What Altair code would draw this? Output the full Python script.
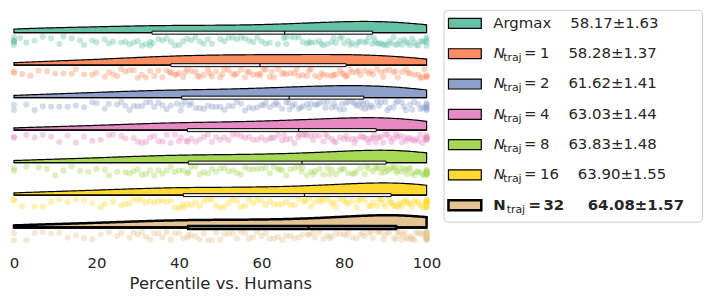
import altair as alt
import pandas as pd

# ---------------- data ----------------
categories = ["Argmax", "N_traj=1", "N_traj=2", "N_traj=4", "N_traj=8", "N_traj=16", "N_traj=32"]
n_traj = [None, 1, 2, 4, 8, 16, 32]
means = [58.17, 58.28, 61.62, 63.03, 63.83, 63.90, 64.08]
stds = [1.63, 1.37, 1.41, 1.44, 1.48, 1.55, 1.57]

scores_argmax = [
    0, 0, 0, 0, 0, 0, 1.5, 3, 5, 7, 9, 11, 12, 14, 16, 17, 19, 20, 22, 23, 24, 26, 27, 28, 29, 30, 31, 32, 33, 33,
    33.6, 35, 36, 37, 38, 39, 40, 41, 42, 43, 44, 45, 46, 47, 48, 50, 51, 52, 53, 54, 55, 56, 57, 58, 59, 60, 61, 62, 64, 65.4,
    65.8, 66, 67, 68, 69, 70, 71, 71.5, 72, 73, 74, 74.5, 75, 76, 77, 77.5, 78, 79, 79.5, 80, 81, 81.5, 82, 83, 83.5, 84, 85, 85.5, 86, 86.8,
    87.2, 87.5, 88, 88.5, 89, 89.5, 90, 90.5, 91, 91.5, 92, 92.5, 93, 93.5, 94, 94.5, 95, 95.5, 96, 96.5, 97, 97.5, 98, 98.5, 99, 99.5, 100, 100, 100, 100,
]
scores_n1 = [
    0, 0, 2, 4, 6, 8, 10, 12, 14, 15, 17, 19, 20, 22, 23, 24, 25, 26, 27, 28, 29, 30, 31, 32, 33, 34, 35, 36, 37, 37.8,
    38.1, 39, 39.5, 40, 41, 41.5, 42, 43, 44, 44.5, 45, 46, 47, 47.5, 48, 49, 50, 50.5, 51, 52, 53, 53.5, 54, 55, 56, 56.5, 57, 58, 59, 59.5,
    59.7, 60.5, 61, 62, 62.5, 63, 64, 65, 65.5, 66, 67, 68, 68.5, 69, 70, 71, 71.5, 72, 73, 74, 74.5, 75, 76, 77, 77.5, 78, 79, 79.5, 80, 80.4,
    80.8, 81.5, 82, 83, 83.5, 84, 85, 86, 86.5, 87, 88, 89, 89.5, 90, 91, 92, 92.5, 93, 94, 95, 95.5, 96, 97, 98, 98.5, 99, 99.5, 100, 100, 100,
]
scores_n2 = [
    0, 0, 3, 5, 7, 9, 11, 13, 15, 17, 19, 20, 22, 23, 25, 26, 27, 28, 29, 30, 31, 32, 33, 34, 35, 36, 37, 38, 39.5, 40.4,
    40.7, 41.5, 42.5, 43, 44, 45, 46, 47, 48, 49, 50, 51, 52, 53, 54, 55, 56, 57, 58, 59, 60, 60.5, 61, 62, 63, 63.5, 64, 65, 66, 66.6,
    66.8, 67.5, 68, 69, 69.5, 70, 71, 71.5, 72, 73, 73.5, 74, 75, 75.5, 76, 77, 77.5, 78, 79, 79.5, 80, 80.5, 81, 82, 82.5, 83, 83.5, 84, 84.3, 84.7,
    85.1, 85.5, 86, 86.5, 87, 88, 88.5, 89, 90, 90.5, 91, 92, 92.5, 93, 94, 94.5, 95, 96, 96.5, 97, 98, 98.5, 99, 99.5, 100, 100, 100, 100, 100, 100,
]
scores_n4 = [
    0, 0, 3, 5, 7, 9, 11, 13, 15, 17, 19, 21, 23, 24, 26, 27, 29, 30, 31, 32, 33, 34, 35, 36, 37, 38, 39, 40, 40.5, 41.8,
    42.1, 43, 44, 45, 46, 47, 48, 49, 50, 51, 52, 53, 54, 55, 56, 57, 58, 59, 60, 61, 62, 62.5, 63, 64, 65, 65.5, 66, 67, 68, 68.9,
    69.1, 70, 70.5, 71, 72, 72.5, 73, 74, 75, 75.5, 76, 77, 77.5, 78, 79, 80, 80.5, 81, 82, 82.5, 83, 84, 84.5, 85, 85.5, 86, 86.5, 87, 87.3, 87.7,
    88.1, 88.5, 89, 89.5, 90, 90.5, 91, 91.5, 92, 92.5, 93, 93.5, 94, 94.5, 95, 95.5, 96, 96.5, 97, 97.5, 98, 98.5, 99, 99.5, 100, 100, 100, 100, 100, 100,
]
scores_n8 = [
    0, 0, 3, 6, 8, 10, 12, 14, 16, 18, 20, 22, 23, 25, 27, 28, 29, 30, 31, 32, 33, 34, 35, 36, 37, 38, 39, 40, 41, 42.0,
    42.3, 43, 44, 45, 46, 47, 48, 49, 50, 51, 52, 53, 54, 55, 56, 57, 58, 59, 60, 61, 62, 63, 64, 64.5, 65, 66, 67, 68, 69, 69.7,
    69.9, 71, 72, 72.5, 73, 74, 75, 76, 76.5, 77, 78, 79, 79.5, 80, 81, 82, 82.5, 83, 84, 85, 85.5, 86, 87, 87.5, 88, 88.5, 89, 89.5, 89.8, 90.1,
    90.5, 91, 91.5, 92, 92.3, 92.7, 93, 93.5, 94, 94.5, 95, 95.3, 95.7, 96, 96.5, 97, 97.5, 98, 98.5, 99, 99.5, 100, 100, 100, 100, 100, 100, 100, 100, 100,
]
scores_n16 = [
    0, 0, 2, 5, 7, 9, 11, 13, 15, 17, 19, 21, 22, 24, 26, 27, 28, 29, 30, 31, 32, 33, 34, 35, 36, 37, 38, 39, 40, 40.8,
    41.1, 42, 43, 44, 45, 46, 47, 48, 49, 50, 51, 52, 53, 54, 55, 56, 57, 58, 59, 60, 61, 62, 63, 64, 65, 66, 67, 68, 69, 70.3,
    70.5, 71.5, 72, 73, 74, 74.5, 75, 76, 77, 77.5, 78, 79, 80, 80.5, 81, 82, 83, 83.5, 84, 85, 86, 86.5, 87, 88, 88.5, 89, 89.5, 90, 90.8, 91.3,
    91.7, 92, 92.5, 93, 93.3, 93.7, 94, 94.5, 95, 95.3, 95.7, 96, 96.5, 97, 97.5, 98, 98.5, 99, 99.5, 100, 100, 100, 100, 100, 100, 100, 100, 100, 100, 100,
]
scores_n32 = [
    0, 0, 3, 5, 7, 9, 11, 13, 15, 17, 19, 21, 23, 25, 26, 28, 29, 30, 31, 32, 33, 34, 35, 36, 37, 38, 39, 40, 41, 42.0,
    42.3, 43, 44, 45, 46, 47, 48, 49, 50, 51, 52, 53, 54, 55, 56, 57, 58, 59, 60, 61, 62, 63, 64, 65, 66, 67, 68, 69, 70, 71.3,
    71.5, 72.5, 73, 74, 75, 76, 76.5, 77, 78, 79, 80, 80.5, 81, 82, 83, 84, 84.5, 85, 86, 86.5, 87, 88, 88.5, 89, 89.5, 90, 90.5, 91, 92, 92.5,
    92.9, 93.2, 93.5, 94, 94.3, 94.7, 95, 95.5, 96, 96.3, 96.7, 97, 97.5, 98, 98.5, 99, 99.5, 100, 100, 100, 100, 100, 100, 100, 100, 100, 100, 100, 100, 100,
]
all_scores = [scores_argmax, scores_n1, scores_n2, scores_n4, scores_n8, scores_n16, scores_n32]

x_ticks = [0, 20, 40, 60, 80, 100]
x_title = "Percentile vs. Humans"

# ---------------- style ----------------
palette = ["#66c2a5", "#fc8d62", "#8da0cb", "#e78ac3", "#a6d854", "#ffd92f", "#e5c494"]
FONT = "DejaVu Sans"
TXT = "#262626"
NB = "\u00a0"

rows = []
for i, (cat, vals) in enumerate(zip(categories, all_scores)):
    for v in vals:
        rows.append({"cat": cat, "i": i, "v": v})
df = pd.DataFrame(rows)

x_scale = alt.Scale(domain=[0, 100], nice=False, zero=False)
y_scale = alt.Scale(domain=[-0.704, 6.703], reverse=True, nice=False, zero=False)
color = alt.Color("cat:N", scale=alt.Scale(domain=categories, range=palette), legend=None)
last_row = "datum.i == 6"

base = alt.Chart(df)

points = base.transform_window(
    k="row_number()", groupby=["i"]
).transform_calculate(
    jy="datum.i + 0.12 + (abs(sin(datum.k * 12.9898 + datum.i * 78.233) * 43758.5453) % 1) * 0.28"
).mark_circle(size=38, opacity=0.38).encode(
    x=alt.X("v:Q", scale=x_scale, title=x_title,
            axis=alt.Axis(values=x_ticks, domain=False, ticks=False, grid=False, labelFlush=False,
                          labelFontSize=15, labelColor=TXT, labelFont=FONT, labelPadding=5,
                          titleFontSize=16.5, titleColor=TXT, titleFont=FONT,
                          titleFontWeight="normal", titlePadding=5)),
    y=alt.Y("jy:Q", scale=y_scale, axis=None),
    color=color,
)

violin = base.transform_density(
    "v", groupby=["i", "cat"], extent=[0, 100], steps=200, as_=["x", "d"]
).transform_calculate(
    top="datum.i - datum.d * 28"
).mark_area(stroke="black", fillOpacity=1).encode(
    x=alt.X("x:Q", scale=x_scale),
    y=alt.Y("top:Q", scale=y_scale, axis=None),
    y2=alt.Y2("i:Q"),
    color=color,
    strokeWidth=alt.condition(last_row, alt.value(2.5), alt.value(1.2)),
)

stats = base.transform_aggregate(
    lo="min(v)", hi="max(v)", q1="q1(v)", med="median(v)", q3="q3(v)", groupby=["i", "cat"]
).transform_calculate(b0="datum.i - 0.046", b1="datum.i + 0.046")

whisk = stats.mark_rule(color="black").encode(
    x=alt.X("lo:Q", scale=x_scale), x2="hi:Q",
    y=alt.Y("i:Q", scale=y_scale, axis=None),
    strokeWidth=alt.condition(last_row, alt.value(2.5), alt.value(1.2)),
)
box = stats.mark_rect(stroke="black", fill="#eeeeee").encode(
    x=alt.X("q1:Q", scale=x_scale), x2="q3:Q",
    y=alt.Y("b0:Q", scale=y_scale, axis=None), y2="b1:Q",
    strokeWidth=alt.condition(last_row, alt.value(2.5), alt.value(1.0)),
)
median = stats.mark_rule(color="black").encode(
    x=alt.X("med:Q", scale=x_scale),
    y=alt.Y("b0:Q", scale=y_scale, axis=None), y2="b1:Q",
    strokeWidth=alt.condition(last_row, alt.value(2.5), alt.value(1.2)),
)

main = alt.layer(points, violin, whisk, box, median).properties(width=415, height=242)

# ---------------- legend ----------------
vals_txt = [f"{m:.2f}±{s:.2f}" for m, s in zip(means, stds)]
leg = pd.DataFrame({
    "cat": categories,
    "i": list(range(len(categories))),
    "lead": ["Argmax" + NB * 4 + vals_txt[0]] + [""] * 6,
    "tail": [""] + [f"{k}" + NB * 4 + v for k, v in zip(n_traj[1:6], vals_txt[1:6])] + [f"{n_traj[6]}"],
    "val": vals_txt,
})
ly = alt.Scale(domain=[-0.4496, 6.541], reverse=True, nice=False, zero=False)
lbase = alt.Chart(leg).transform_calculate(ya="datum.i - 0.164", yb="datum.i + 0.164")
ytxt = alt.Y("i:Q", scale=ly, axis=None)

patch = lbase.mark_rect(stroke="black").encode(
    x=alt.value(5), x2=alt.value(38),
    y=alt.Y("ya:Q", scale=ly, axis=None), y2="yb:Q",
    color=color,
    strokeWidth=alt.condition(last_row, alt.value(2.5), alt.value(1.2)),
)


def txt(filt, field_or_text, xpos, size=15, dy=4.5, style="normal", weight="normal"):
    ch = lbase.transform_filter(filt)
    mk = ch.mark_text(font=FONT, fontSize=size, color=TXT, align="left", baseline="alphabetic",
                      dy=dy, fontStyle=style, fontWeight=weight)
    if field_or_text.startswith("@"):
        return mk.encode(x=alt.value(xpos), y=ytxt, text=alt.Text(field_or_text[1:] + ":N"))
    return mk.encode(x=alt.value(xpos), y=ytxt, text=alt.value(field_or_text))


mid = "datum.i >= 1 && datum.i <= 5"
legend_layers = [
    patch,
    txt("datum.i == 0", "@lead", 50),
    txt(mid, "N", 50.5, style="italic"),
    txt(mid, "traj", 60, size=11, dy=7.5),
    txt(mid, "=", 81),
    txt(mid, "@tail", 97),
    txt(last_row, "N", 50, weight="bold"),
    txt(last_row, "traj", 63.5, size=11, dy=7.5),
    txt(last_row, "=", 85.5, weight="bold"),
    txt(last_row, "@tail", 100.5, weight="bold"),
    txt(last_row, "@val", 145, weight="bold"),
]
legend = alt.layer(*legend_layers).properties(
    width=260, height=213,
    view=alt.ViewBackground(stroke="#cccccc", strokeWidth=1, cornerRadius=4, fill="white"),
)

chart = alt.hconcat(main, legend, spacing=1).configure_view(
    stroke="transparent"
).properties(padding={"left": 0, "top": 0, "right": 0, "bottom": 0}, background="white")

chart.save("out.html", embed_options={"renderer": "svg", "actions": False})
